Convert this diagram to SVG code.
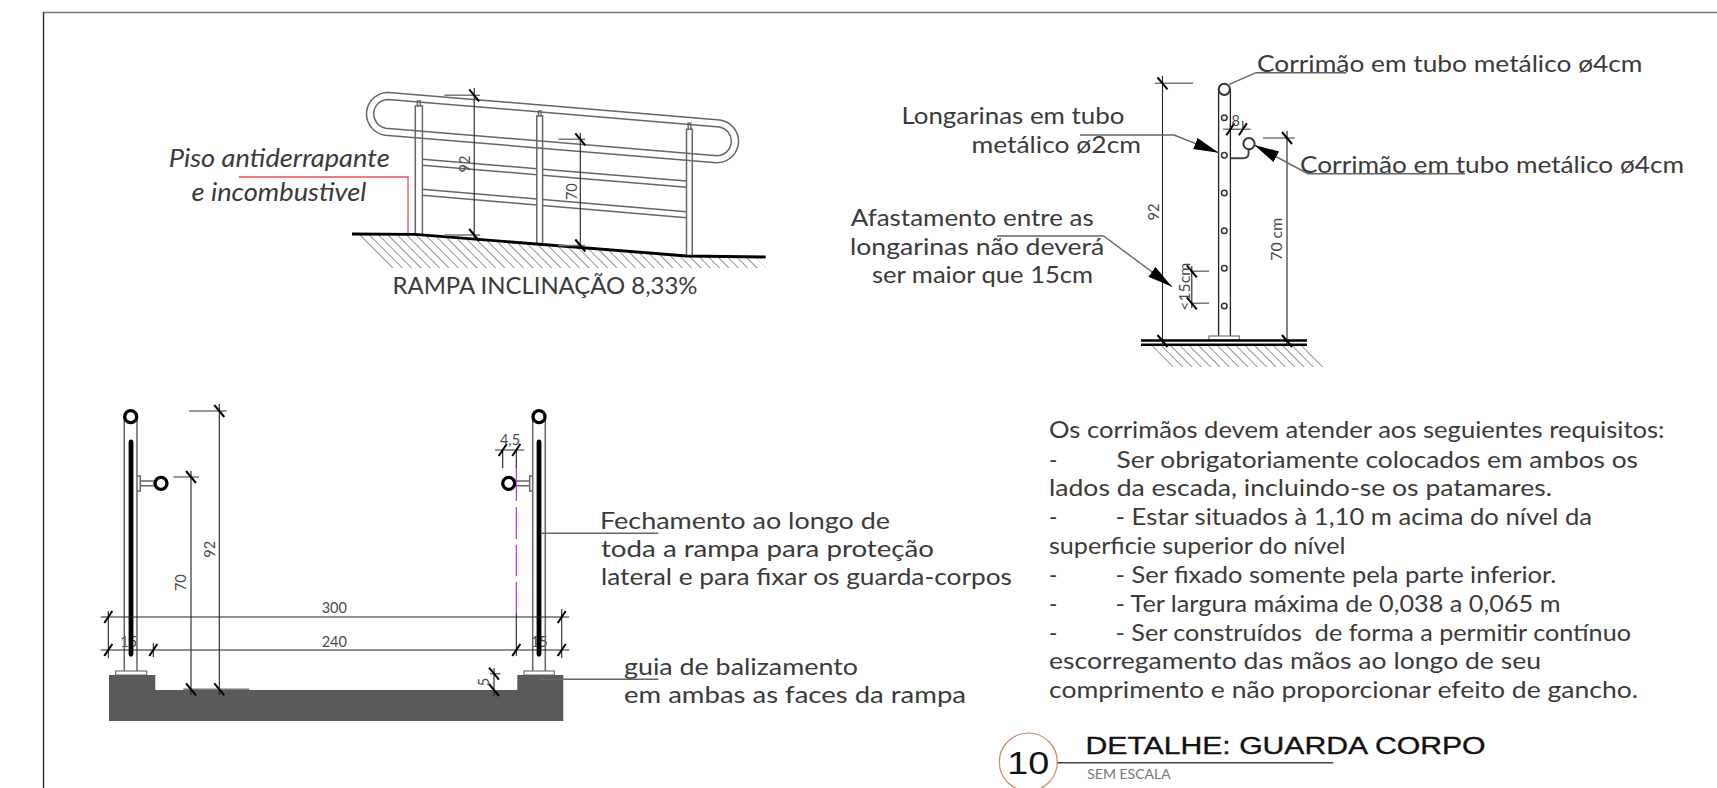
<svg xmlns="http://www.w3.org/2000/svg" width="1717" height="788" viewBox="0 0 1717 788">
<style>
text{font-family:"Lato","Liberation Sans",sans-serif;fill:#3a3a3a;white-space:pre}
.l{font-size:24px}
.p{font-size:22.5px}
.d{font-size:14.5px;fill:#4a4a4a}
.i{font-style:italic;font-size:25px}
.g{fill:none;stroke:#666;stroke-width:1.5}
.k{fill:none;stroke:#222;stroke-width:1.3}
.dl{stroke:#222;stroke-width:1.1;fill:none}
.ex{stroke:#777;stroke-width:1.4;fill:none}
.tk{stroke:#000;stroke-width:2;fill:none}
.ld{stroke:#666;stroke-width:1.4;fill:none}
.ring{fill:#fff;stroke:#000;stroke-width:3.3}
.ring2{fill:#fff;stroke:#333;stroke-width:2}
.hole{fill:#fff;stroke:#333;stroke-width:1.5}
</style>
<defs>
<path id="tv" class="tk" d="M-5,-6 L5,6"/>
<path id="th" class="tk" d="M-4,6 L4,-6"/>
<pattern id="hatch" width="40" height="6.6" patternUnits="userSpaceOnUse" patternTransform="rotate(45)">
<line x1="0" y1="3.3" x2="40" y2="3.3" stroke="#888" stroke-width="0.9"/>
</pattern>
<marker id="arrow" markerUnits="userSpaceOnUse" markerWidth="26" markerHeight="14" refX="25" refY="7" orient="auto">
<path d="M0,1 L25,7 L0,13 Z" fill="#000"/>
</marker>
</defs>
<rect width="1717" height="788" fill="#fff"/>
<g id="frame">
<line x1="43" y1="12.5" x2="1717" y2="12.5" stroke="#777" stroke-width="1.5"/>
<line x1="43.5" y1="12" x2="43.5" y2="788" stroke="#222" stroke-width="1.3"/>
</g>
<g id="drawing" transform="translate(0,1)">
<g id="ramp-elevation">
<polygon points="353,233.3 415,233.3 686.5,255 755,256 766,267 386,267" fill="url(#hatch)"/>
<path class="g" d="M388.8,91.4 L719.8,118.9 A21.5 21.5 0 0 1 716.2,161.7 L385.2,134.2 A21.5 21.5 0 0 1 388.8,91.4Z"/>
<path class="g" d="M388.2,98.4 L719.2,125.9 A14.5 14.5 0 0 1 716.8,154.7 L385.8,127.2 A14.5 14.5 0 0 1 388.2,98.4Z"/>
<path class="g" d="M415.3,233.3V105H422.4V233.3M417.4,105V100H420.3V105"/>
<path class="g" d="M536.8,242.7V115H542.6V242.7M538.4,115V110H541V115"/>
<path class="g" d="M686.5,255V128.3H692.3V255M688.2,128.3V122.3H690.8V128.3"/>
<path class="g" d="M422.4,158.3L536.8,167.7M542.6,168.2L686.5,180M422.4,164.3L536.8,173.7M542.6,174.2L686.5,186.3M422.4,188.3L536.8,198M542.6,198.5L686.5,210.7M422.4,194.3L536.8,204M542.6,204.5L686.5,216.7"/>
<polyline points="352,233 415,233.3 686.5,255 765.7,256" fill="none" stroke="#000" stroke-width="2.8"/>
<path class="dl" d="M474.2,87V238M580.3,132V248"/>
<path class="ex" d="M444.4,94.3H480M444.4,234H480M558.4,138.3H585.3M558,244.5H585"/>
<use href="#tv" x="474.2" y="94.3"/><use href="#tv" x="474.2" y="234"/>
<use href="#tv" x="580.3" y="138.3"/><use href="#tv" x="580.3" y="244.5"/>
<text class="d" text-anchor="middle" transform="translate(470,163) rotate(-90)">92</text>
<text class="d" text-anchor="middle" transform="translate(577,190.7) rotate(-90)">70</text>
<text class="i" x="168.7" y="166" textLength="221" lengthAdjust="spacingAndGlyphs">Piso antiderrapante</text>
<text class="i" x="191.5" y="200" textLength="175" lengthAdjust="spacingAndGlyphs">e incombustivel</text>
<text class="l" x="392.5" y="293" textLength="305" lengthAdjust="spacingAndGlyphs">RAMPA INCLINAÇÃO 8,33%</text>
</g>

<g id="side-detail">
<polygon points="1145,345 1304,345 1325,366 1166,366" fill="url(#hatch)"/>
<path class="k" d="M1218.6,335V88M1230.4,335V88"/>
<circle class="ring2" cx="1224.3" cy="88.3" r="5.6"/>
<circle class="hole" cx="1224.3" cy="116.7" r="2.8"/><circle class="hole" cx="1224.3" cy="154.3" r="2.8"/><circle class="hole" cx="1224.3" cy="192" r="2.8"/><circle class="hole" cx="1224.3" cy="229.7" r="2.8"/><circle class="hole" cx="1224.3" cy="267.3" r="2.8"/><circle class="hole" cx="1224.3" cy="305" r="2.8"/>
<path d="M1230.4,157.3H1243Q1248.6,157.3 1248.6,152V148" fill="none" stroke="#444" stroke-width="1.9"/>
<circle class="ring2" cx="1249" cy="142.7" r="5.6"/>
<rect x="1209" y="335" width="30.3" height="4" fill="#fff" stroke="#666" stroke-width="1.1"/>
<path d="M1141,339.5H1307M1141,343.8H1307" stroke="#000" stroke-width="2.6" fill="none"/>
<path class="dl" d="M1162.5,75V345M1287,130V345M1191.8,265V307M1230.4,128.3V122M1242.9,128.3V120"/>
<path class="ex" d="M1155,82.3H1193M1263,137H1294.6M1191.8,270.3H1209M1191.8,302.3H1209M1222.9,128.3H1250.7"/>
<use href="#tv" x="1162.5" y="82.3"/><use href="#tv" x="1287" y="137"/><use href="#tv" x="1162.5" y="340"/><use href="#tv" x="1287" y="340"/>
<use href="#tv" x="1191.8" y="270.3"/><use href="#tv" x="1191.8" y="302.3"/>
<use href="#th" x="1230.4" y="128.3"/><use href="#th" x="1242.9" y="128.3"/>
<text class="d" x="1235.7" y="125" text-anchor="middle">8</text>
<text class="d" text-anchor="middle" transform="translate(1158.5,211) rotate(-90)">92</text>
<text class="d" text-anchor="middle" textLength="43" lengthAdjust="spacingAndGlyphs" transform="translate(1282,238.3) rotate(-90)">70 cm</text>
<text class="d" text-anchor="middle" textLength="48" lengthAdjust="spacingAndGlyphs" transform="translate(1189.5,285.7) rotate(-90)">&lt;15cm</text>
<text class="l" x="1257" y="70.5" textLength="385.5" lengthAdjust="spacingAndGlyphs">Corrimão em tubo metálico ø4cm</text>
<text class="l" x="1300" y="171.5" textLength="384" lengthAdjust="spacingAndGlyphs">Corrimão em tubo metálico ø4cm</text>
<text class="l" x="901.4" y="123.3" textLength="223" lengthAdjust="spacingAndGlyphs">Longarinas em tubo</text>
<text class="l" x="971.4" y="152.3" textLength="169.6" lengthAdjust="spacingAndGlyphs">metálico ø2cm</text>
<text class="l" x="850.7" y="225.3" textLength="243" lengthAdjust="spacingAndGlyphs">Afastamento entre as</text>
<text class="l" x="850" y="254" textLength="254.3" lengthAdjust="spacingAndGlyphs">longarinas não deverá</text>
<text class="l" x="872" y="282.3" textLength="221" lengthAdjust="spacingAndGlyphs">ser maior que 15cm</text>
</g>

<g id="section">
<polygon points="109,674 155.3,674 155.3,689 517.3,689 517.3,674 563.3,674 563.3,720 109,720" fill="#5a5a5a"/>
<text class="d" x="128.7" y="646" text-anchor="middle">15</text>
<text class="d" x="539.3" y="646" text-anchor="middle">15</text>
<path class="g" d="M124.3,670V416M137,670V416M532.7,670V416M545.3,670V416"/>
<rect x="115.7" y="670" width="31" height="4" fill="#fff" stroke="#666" stroke-width="1.1"/>
<rect x="524" y="670" width="30.3" height="4" fill="#fff" stroke="#666" stroke-width="1.1"/>
<path d="M131,441V653.3M539,441V653.3" stroke="#000" stroke-width="4.8" stroke-linecap="round"/>
<path class="g" d="M137,475H140.3V490H137M140.3,480H156M140.3,484.7H156M532.7,475H529.7V490H532.7M529.7,480H514M529.7,484.7H514"/>
<circle class="ring" cx="130.7" cy="415.7" r="6"/><circle class="ring" cx="539" cy="415.7" r="6"/>
<circle class="ring" cx="161" cy="482.3" r="6"/><circle class="ring" cx="508.7" cy="482.3" r="6"/>
<path d="M516.3,467V500M516.3,506V538M516.3,544V575M516.3,581V612" fill="none" stroke="#b01ee0" stroke-width="1.1"/>
<path class="dl" d="M100.7,616H569.3M100.7,649H569.3M219.3,403V694M191,470V694M108.3,610V657M561.7,608V657M494,667V695M502.7,449V467.3M516.3,449V467M516.3,612V655M153.3,642V656"/>
<path class="ex" d="M189,410H226.7M173.3,476H199M183.3,688.3H249.3M490,672.7H500.7M495,449H524.3"/>
<use href="#tv" x="219.3" y="410"/><use href="#tv" x="191" y="476"/><use href="#tv" x="191" y="688.3"/><use href="#tv" x="219.3" y="688.3"/>
<use href="#th" x="108.3" y="616"/><use href="#th" x="108.3" y="649"/><use href="#th" x="153.3" y="649"/><use href="#th" x="516.3" y="649"/><use href="#th" x="561.7" y="616"/><use href="#th" x="561.7" y="649"/>
<use href="#tv" x="494" y="672.7"/><use href="#tv" x="494" y="689"/><use href="#th" x="502.7" y="449"/><use href="#th" x="516.3" y="449"/>
<text class="d" text-anchor="middle" transform="translate(186,581.7) rotate(-90)">70</text>
<text class="d" text-anchor="middle" transform="translate(215,548.3) rotate(-90)">92</text>
<text class="d" x="334.3" y="611.5" text-anchor="middle">300</text>
<text class="d" x="334.3" y="645.5" text-anchor="middle">240</text>
<text class="d" x="510" y="444" text-anchor="middle">4,5</text>
<text class="d" text-anchor="middle" transform="translate(489,681) rotate(-90)">5</text>
<text class="l" x="600" y="527.5" textLength="290" lengthAdjust="spacingAndGlyphs">Fechamento ao longo de</text>
<text class="l" x="601" y="555.7" textLength="333" lengthAdjust="spacingAndGlyphs">toda a rampa para proteção</text>
<text class="l" x="601" y="583.5" textLength="411" lengthAdjust="spacingAndGlyphs">lateral e para fixar os guarda-corpos</text>
<text class="l" x="624" y="674" textLength="234" lengthAdjust="spacingAndGlyphs">guia de balizamento</text>
<text class="l" x="624" y="702.3" textLength="342" lengthAdjust="spacingAndGlyphs">em ambas as faces da rampa</text>
</g>

<g id="connectors">
<polyline points="239,176 408,176 408,232.3" fill="none" stroke="#e8505b" stroke-width="1.3"/>
<polyline class="ld" points="1229.3,83.3 1256,71.7 1346.4,71.7"/>
<polyline class="ld" points="1465,172.7 1307.9,172.7 1254.3,144" marker-end="url(#arrow)"/>
<polyline class="ld" points="1080,134 1174,134 1218.6,151.7" marker-end="url(#arrow)"/>
<polyline class="ld" points="997,235 1103.6,235 1172,285.7" marker-end="url(#arrow)"/>
<line class="ld" x1="540.7" y1="532.3" x2="658.3" y2="532.3"/>
<line class="ld" x1="539.3" y1="678.3" x2="658.3" y2="678.3"/>
</g>

<g id="notes">
<text class="p" x="1049" y="437.3" textLength="615.5" lengthAdjust="spacingAndGlyphs">Os corrimãos devem atender aos seguientes requisitos:</text>
<text class="p" x="1049" y="466.7">-</text>
<text class="p" x="1116.5" y="466.7" textLength="521.5" lengthAdjust="spacingAndGlyphs">Ser obrigatoriamente colocados em ambos os</text>
<text class="p" x="1049" y="495" textLength="503" lengthAdjust="spacingAndGlyphs">lados da escada, incluindo-se os patamares.</text>
<text class="p" x="1049" y="524">-</text>
<text class="p" x="1115.5" y="524" textLength="476.5" lengthAdjust="spacingAndGlyphs">- Estar situados à 1,10 m acima do nível da</text>
<text class="p" x="1049" y="553.3" textLength="296.3" lengthAdjust="spacingAndGlyphs">superficie superior do nível</text>
<text class="p" x="1049" y="581.7">-</text>
<text class="p" x="1115.5" y="581.7" textLength="440.8" lengthAdjust="spacingAndGlyphs">- Ser fixado somente pela parte inferior.</text>
<text class="p" x="1049" y="610.7">-</text>
<text class="p" x="1115.5" y="610.7" textLength="444.9" lengthAdjust="spacingAndGlyphs">- Ter largura máxima de 0,038 a 0,065 m</text>
<text class="p" x="1049" y="640">-</text>
<text class="p" x="1115.5" y="640" textLength="515.5" lengthAdjust="spacingAndGlyphs">- Ser construídos  de forma a permitir contínuo</text>
<text class="p" x="1049" y="668.3" textLength="492" lengthAdjust="spacingAndGlyphs">escorregamento das mãos ao longo de seu</text>
<text class="p" x="1049" y="696.7" textLength="589" lengthAdjust="spacingAndGlyphs">comprimento e não proporcionar efeito de gancho.</text>
</g>

<g id="title">
<circle cx="1028.3" cy="761" r="29" fill="#fff" stroke="#c98a70" stroke-width="1.2"/>
<text x="1028.3" y="772.5" text-anchor="middle" textLength="42" lengthAdjust="spacingAndGlyphs" style="font-family:'Liberation Sans',sans-serif;font-size:31px;fill:#111">10</text>
<line x1="1057.3" y1="761.7" x2="1333.3" y2="761.7" stroke="#444" stroke-width="1.5"/>
<text x="1085.5" y="752.5" textLength="400" lengthAdjust="spacingAndGlyphs" style="font-family:'Liberation Sans',sans-serif;font-size:24.5px;fill:#111;stroke:#111;stroke-width:0.35">DETALHE: GUARDA CORPO</text>
<text x="1087.3" y="778" textLength="83.4" lengthAdjust="spacingAndGlyphs" style="font-size:12.5px;fill:#777">SEM ESCALA</text>
</g>
</g>
</svg>
